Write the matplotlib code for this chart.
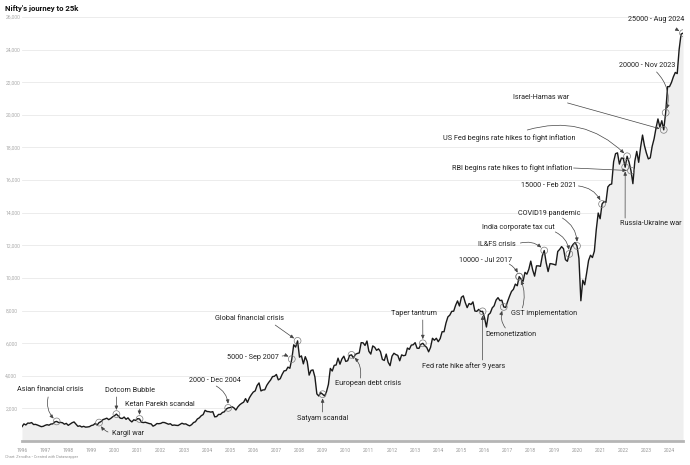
import numpy as np
import pandas as pd
import matplotlib
matplotlib.use("Agg")
import matplotlib.pyplot as plt

plt.rcParams['font.family'] = ['Roboto', 'DejaVu Sans']

# Nifty monthly levels, Jan 1996 .. Aug 2024
start_month = "1996-01"
nifty = [
    880, 1050, 985, 1100, 1090, 1130, 1010, 1020, 980, 930, 880, 900,            # 1996
    960, 1000, 970, 1040, 1050, 1170, 1200, 1130, 1140, 1120, 1030, 1080,        # 1997
    960, 1040, 1120, 1170, 1030, 900, 930, 860, 900, 850, 860, 880,              # 1998
    950, 980, 1080, 980, 1130, 1190, 1310, 1350, 1400, 1310, 1380, 1480,         # 1999
    1550, 1650, 1530, 1400, 1380, 1470, 1330, 1420, 1270, 1170, 1300, 1260,      # 2000
    1370, 1350, 1150, 1130, 1150, 1110, 1070, 1050, 910, 970, 1070, 1060,        # 2001
    1080, 1140, 1130, 1080, 1030, 1060, 960, 980, 960, 950, 1020, 1090,          # 2002
    1040, 1050, 980, 930, 1000, 1130, 1180, 1350, 1420, 1550, 1620, 1880,        # 2003
    1810, 1800, 1770, 1800, 1480, 1500, 1630, 1630, 1750, 1790, 1960, 2030,      # 2004
    2050, 2100, 2030, 1900, 2090, 2220, 2310, 2380, 2600, 2370, 2650, 2840,      # 2005
    3000, 3070, 3400, 3560, 3070, 3130, 3140, 3410, 3590, 3740, 3950, 3970,      # 2006
    4080, 3750, 3820, 4090, 4300, 4320, 4530, 4460, 5020, 5900, 5760, 6140,      # 2007
    5140, 5220, 4730, 5170, 4870, 4040, 4330, 4360, 3920, 2890, 2760, 2960,      # 2008
    2870, 2760, 3020, 3470, 4450, 4290, 4640, 4660, 5080, 4710, 5030, 5200,      # 2009
    4880, 4920, 5250, 5280, 5090, 5310, 5370, 5400, 6030, 6020, 5860, 6130,      # 2010
    5500, 5330, 5830, 5750, 5560, 5650, 5480, 5000, 4940, 5330, 4830, 4620,      # 2011
    5200, 5380, 5300, 5250, 4920, 5280, 5230, 5260, 5700, 5620, 5880, 5900,      # 2012
    6030, 5690, 5680, 5930, 5990, 5840, 5740, 5470, 5740, 6300, 6180, 6300,      # 2013
    6090, 6280, 6700, 6700, 7230, 7610, 7720, 7950, 7960, 8320, 8590, 8280,      # 2014
    8810, 8900, 8490, 8180, 8430, 8370, 8530, 7970, 7950, 8070, 7940, 7950,      # 2015
    7560, 6990, 7740, 7850, 8160, 8290, 8640, 8790, 8610, 8630, 8220, 8190,      # 2016
    8560, 8880, 9170, 9300, 9620, 9520, 10080, 9920, 9790, 10340, 10230, 10530,  # 2017
    11030, 10490, 10110, 10740, 10740, 10710, 11360, 11680, 10930, 10390, 10880, 10860,  # 2018
    10830, 10790, 11620, 11750, 11920, 11790, 11120, 11020, 11470, 11880, 12060, 12170,  # 2019
    11960, 11200, 8600, 9860, 9580, 10300, 11070, 11390, 11250, 11640, 12970, 13980,     # 2020
    13630, 14530, 14690, 14630, 15580, 15720, 15760, 17130, 17620, 17670, 16980, 17350,  # 2021
    17340, 16790, 17460, 17100, 16580, 15780, 17160, 17760, 17090, 18010, 18760, 18110,  # 2022
    17660, 17300, 17360, 18070, 18530, 19190, 19750, 19250, 19640, 19080, 20130, 21730,  # 2023
    21730, 21980, 22330, 22600, 22530, 24010, 24950, 25010,                              # 2024
]

year_ticks = list(range(1996, 2025))
y_ticks = list(range(2000, 26001, 2000))

# annotations: label, month of the event
ann_labels = ["Asian financial crisis", "Dotcom Bubble", "Ketan Parekh scandal", "Kargil war",
              "2000 - Dec 2004", "Satyam scandal", "European debt crisis", "Global financial crisis",
              "5000 - Sep 2007", "Taper tantrum", "Fed rate hike after 9 years", "Demonetization",
              "GST implementation", "10000 - Jul 2017", "IL&FS crisis", "India corporate tax cut",
              "COVID19 pandemic", "15000 - Feb 2021", "Russia-Ukraine war",
              "RBI begins rate hikes to fight inflation", "US Fed begins rate hikes to fight inflation",
              "Israel-Hamas war", "20000 - Nov 2023", "25000 - Aug 2024"]
ann_months = ["1997-07", "2000-02", "2001-02", "1999-05",
              "2004-12", "2009-01", "2010-04", "2007-12",
              "2007-09", "2013-05", "2015-12", "2016-11",
              "2017-07", "2017-07", "2018-08", "2019-09",
              "2020-01", "2021-02", "2022-02",
              "2022-05", "2022-03",
              "2023-10", "2023-11", "2024-08"]
# label placement (decimal year, level) and where each pointer starts
ann_tx = [1997.21, 2000.67, 2001.97, 2000.59,
          2004.35, 2009.02, 2010.97, 2005.82,
          2007.12, 2012.96, 2015.08, 2017.16,
          2018.59, 2016.03, 2016.55, 2017.46,
          2018.80, 2018.76, 2023.17,
          2017.20, 2017.07,
          2018.46, 2023.05, 2023.43]
ann_ty = [3130, 3070, 2210, 430,
          3680, 1410, 3500, 7540,
          5150, 7790, 4600, 6560,
          7790, 11040, 12080, 13120,
          13980, 15640, 13310,
          16740, 18580,
          21090, 23000, 25820]
ann_ha = ["center", "center", "center", "center",
          "center", "center", "center", "center",
          "right", "center", "center", "center",
          "center", "center", "center", "center",
          "center", "center", "center",
          "center", "center",
          "center", "center", "center"]
ptr_x = [1997.13, 2000.08, 2001.08, 1999.72,
         2004.40, 2009.00, 2010.63, 2006.95,
         2007.25, 2013.33, 2015.92, 2016.90,
         2017.64, 2017.07, 2017.55, 2019.06,
         2019.37, 2020.06, 2022.08,
         2019.85, 2017.85,
         2019.59, 2023.44, 2024.35]
ptr_y = [2700, 2700, 1960, 550,
         3370, 1780, 3860, 7110,
         5210, 7420, 4970, 6930,
         8160, 10850, 12140, 12820,
         13670, 15640, 13670,
         16740, 19070,
         20730, 22630, 25200]
ptr_rad = [0.3, 0, 0, -0.2,
           -0.3, 0, 0.3, 0,
           -0.3, 0, 0, -0.3,
           0.2, -0.2, -0.3, -0.3,
           -0.3, -0.3, 0,
           0, -0.3,
           0, -0.3, 0]

dates = pd.date_range(start_month, periods=len(nifty), freq="MS")
x = dates.year + (dates.month - 1) / 12
series = pd.Series(nifty, index=dates)

fig = plt.figure(figsize=(6.9, 4.65), dpi=100)
ax = fig.add_axes([22 / 690, 24 / 465, 661 / 690, 424 / 465])

ax.fill_between(x, nifty, 0, color="#efefef", lw=0)
ax.plot(x, nifty, color="#1a1a1a", lw=1.0, solid_joinstyle="round")

ax.set_xlim(1996, x[-1])
ax.set_ylim(0, 26000)
ax.set_yticks(y_ticks)
ax.set_yticklabels([f"{v:,}" for v in y_ticks], fontsize=3.6, color="#aaaaaa", ha="left")
ax.tick_params(axis="y", length=0, pad=12)
ax.set_xticks(year_ticks)
ax.set_xticklabels([str(y) for y in year_ticks], fontsize=3.6, color="#999999")
ax.tick_params(axis="x", length=0, pad=5)
ax.grid(axis="y", color="#e9e9e9", lw=0.6)
ax.set_axisbelow(True)
for s in ["top", "right", "left"]:
    ax.spines[s].set_visible(False)
ax.spines["bottom"].set_color("#b5b5b5")
ax.spines["bottom"].set_linewidth(2)

for i, lab in enumerate(ann_labels):
    d = pd.Timestamp(ann_months[i] + "-01")
    cx = d.year + (d.month - 1) / 12
    cy = series[d]
    ax.scatter([cx], [cy], s=24, facecolor="none", edgecolor="#7a7a7a", lw=0.5, zorder=4)
    ax.text(ann_tx[i], ann_ty[i], lab, fontsize=5.2, color="#222222",
            ha=ann_ha[i], va="center", zorder=5)
    ax.annotate("", xy=(cx, cy), xytext=(ptr_x[i], ptr_y[i]), zorder=5,
                arrowprops=dict(arrowstyle="-|>,head_length=0.45,head_width=0.2",
                                mutation_scale=5, color="#444444", lw=0.5,
                                shrinkA=0, shrinkB=3,
                                connectionstyle=f"arc3,rad={ptr_rad[i]}"))

fig.text(5 / 690, 1 - 8 / 465, "Nifty's journey to 25k", fontsize=5.6, fontweight="bold",
         color="#111111", ha="left", va="center")
fig.text(5 / 690, 1 - 457 / 465, "Chart: Zerodha \u2022 Created with Datawrapper", fontsize=2.8,
         color="#999999", ha="left", va="center")

fig.savefig("out.png", dpi=100)
